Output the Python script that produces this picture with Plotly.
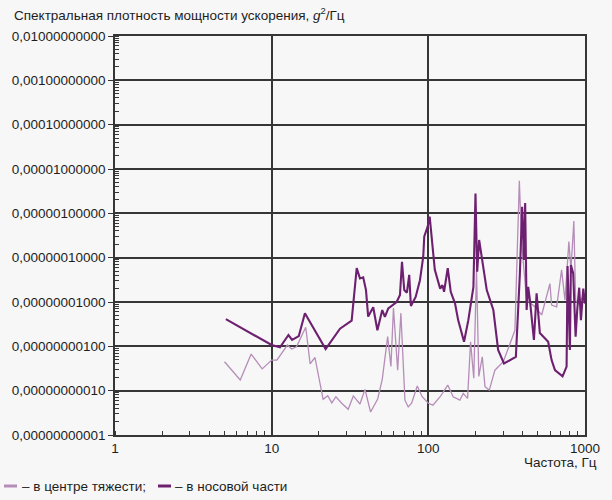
import plotly.graph_objects as go

# ---- data (frequency, Hz ; PSD, g^2/Hz) ----
freq_center = [5.0, 6.3, 7.4, 8.7, 10.0, 10.8, 12.6, 13.4, 14.4, 16.5, 17.6, 18.9,
               21.3, 22.8, 24.2, 25.7, 28.0, 30.8, 33.2, 36.6, 39.4, 42.8, 47.5,
               50.8, 55.0, 57.7, 59.9, 63.7, 66.8, 70.9, 74.4, 78.2, 85.0, 91.4,
               100, 107, 119, 133, 144, 159, 167, 178, 186, 195, 203, 210, 221,
               230, 245, 266, 301, 357, 381, 394, 424, 479, 529, 597, 612, 659,
               709, 745, 789, 813, 849, 871, 905, 951, 1000]
psd_center = [4.5e-10, 1.74e-10, 6.7e-10, 3.1e-10, 4.9e-10, 4.9e-10, 1.07e-9, 8.7e-10,
              9.8e-10, 2.7e-9, 4.0e-10, 5.6e-10, 6.4e-11, 7.7e-11, 5.3e-11, 7.3e-11,
              5.2e-11, 3.8e-11, 7.6e-11, 5.0e-11, 1.07e-10, 3.3e-11, 6.5e-11,
              1.8e-10, 1.65e-9, 3.5e-10, 7.3e-9, 2.9e-10, 5.6e-9, 6.1e-11, 4.3e-11,
              5.2e-11, 1.27e-10, 7.3e-11, 5.2e-11, 4.7e-11, 7.3e-11, 1.34e-10,
              7.3e-11, 6.1e-11, 8.7e-11, 6.7e-11, 1.27e-9, 1.9e-10, 5.3e-8, 2.1e-10,
              5.8e-10, 1.23e-10, 1.03e-10, 2.9e-10, 4.5e-10, 2.3e-9, 5.4e-6, 2.1e-7,
              1.1e-8, 7.8e-9, 5.1e-9, 2.6e-8, 8.5e-9, 7.8e-9, 5.3e-8, 1.1e-8,
              2.3e-7, 5.3e-8, 6.7e-7, 1.1e-8, 9.3e-9, 1.2e-8, 9.3e-9]

freq_nose = [5.1, 10.0, 11.3, 12.8, 13.5, 14.9, 16.3, 22.1, 27.3, 32.4, 34.9, 36.6,
             38.4, 40.0, 41.3, 44.5, 47.3, 50.8, 52.8, 55.5, 62.8, 65.9, 67.9,
             70.2, 73.0, 75.5, 77.4, 83.0, 88.4, 92.8, 94.2, 99, 102, 106, 110,
             119, 123, 126, 133, 139, 148, 155, 161, 169, 180, 194, 200, 205, 211,
             219, 236, 260, 279, 304, 362, 384, 397, 408, 415, 424, 434, 445, 472,
             491, 515, 582, 612, 643, 719, 763, 774, 801, 813, 841, 871, 892, 918,
             942, 975, 1000]
psd_nose = [4.1e-9, 1.07e-9, 9.5e-10, 1.8e-9, 1.39e-9, 1.7e-9, 5.6e-9, 8.7e-10,
            2.5e-9, 3.8e-9, 5.8e-8, 3.4e-8, 3.6e-8, 1.86e-8, 4.7e-9, 7.6e-9,
            2.3e-9, 6.6e-9, 4.6e-9, 7.2e-9, 1.0e-8, 1.44e-8, 8.1e-8, 1.86e-8,
            1.62e-8, 4.1e-8, 8.1e-9, 1.3e-8, 3.1e-8, 1.05e-7, 3.0e-7, 5.0e-7,
            8.4e-7, 1.93e-7, 5.3e-8, 2.0e-8, 2.4e-8, 1.7e-8, 5.8e-8, 1.7e-8,
            9.3e-9, 3.9e-9, 2.3e-9, 1.27e-9, 3.9e-9, 2.2e-8, 2.8e-6, 4.8e-8,
            2.5e-7, 1.05e-7, 1.86e-8, 6.6e-9, 8.3e-10, 4.1e-10, 5.8e-10, 4.4e-8,
            1.4e-6, 8.9e-8, 1.7e-6, 6.6e-9, 2.2e-8, 1.1e-8, 1.39e-9, 1.57e-8,
            2.0e-9, 1.27e-9, 4.9e-10, 2.9e-10, 2.1e-10, 3.5e-10, 6.5e-8, 8.3e-10,
            6.8e-8, 4.4e-8, 1.65e-9, 6.6e-9, 2.1e-8, 3.9e-9, 2.0e-8, 9.3e-9]

y_tickvals = [1e-11, 1e-10, 1e-9, 1e-8, 1e-7, 1e-6, 1e-5, 1e-4, 1e-3, 1e-2]
y_ticktext = ["0,00000000001", "0,00000000010", "0,00000000100", "0,00000001000",
              "0,00000010000", "0,00000100000", "0,00001000000", "0,00010000000",
              "0,00100000000", "0,01000000000"]
x_tickvals = [1, 10, 100, 1000]
x_ticktext = ["1", "10", "100", "1000"]

title_text = "Спектральная плотность мощности ускорения, <i>g</i><sup>2</sup>/Гц"
x_title = "Частота, Гц"
legend_center = "– в центре тяжести;"
legend_nose = "– в носовой части"

C_LIGHT = "#b58db8"
C_DARK = "#6e2070"
BG = "#f7f7f7"
GRID = "#363636"
TXT = "#1e1e1e"
FONT = "Arial, 'Liberation Sans', sans-serif"

fig = go.Figure()
fig.add_trace(go.Scatter(x=freq_center, y=psd_center, mode="lines",
                         line=dict(color=C_LIGHT, width=1.3), showlegend=False))
fig.add_trace(go.Scatter(x=freq_nose, y=psd_nose, mode="lines",
                         line=dict(color=C_DARK, width=2.1), showlegend=False))

L, R, T, B = 115, 27, 36, 65
W, H = 612, 500
pw, ph = W - L - R, H - T - B

def px(x):
    return (x - L) / pw

def py(y):
    return (H - B - y) / ph

fig.update_layout(
    width=W, height=H,
    margin=dict(l=L, r=R, t=T, b=B),
    paper_bgcolor=BG, plot_bgcolor=BG,
    font=dict(family=FONT, size=13.5, color=TXT),
    showlegend=False,
)
fig.update_xaxes(
    type="log", range=[0, 3],
    tickvals=x_tickvals, ticktext=x_ticktext,
    showgrid=True, gridcolor=GRID, gridwidth=1.5,
    showline=True, linecolor=GRID, linewidth=1.5, mirror=True,
    ticks="", zeroline=False,
    tickfont=dict(size=13.5),
    minor=dict(ticks="inside", ticklen=4, tickcolor=GRID, tickwidth=1, showgrid=False, dtick="D1"),
)
fig.update_yaxes(
    type="log", range=[-11, -2],
    tickvals=y_tickvals, ticktext=y_ticktext,
    showgrid=True, gridcolor=GRID, gridwidth=1.5,
    showline=True, linecolor=GRID, linewidth=1.5, mirror=True,
    ticks="outside", ticklen=5, tickcolor=GRID, tickwidth=1.2, zeroline=False,
    tickfont=dict(size=13.5),
    minor=dict(ticks="inside", ticklen=4, tickcolor=GRID, tickwidth=1, showgrid=False, dtick="D1"),
)

anns = [
    dict(text=title_text, x=px(12), y=py(14), xanchor="left", yanchor="middle"),
    dict(text=x_title, x=px(599), y=py(462), xanchor="right", yanchor="middle"),
    dict(text=legend_center, x=px(20), y=py(486), xanchor="left", yanchor="middle"),
    dict(text=legend_nose, x=px(173), y=py(486), xanchor="left", yanchor="middle"),
]
for a in anns:
    fig.add_annotation(xref="paper", yref="paper", showarrow=False,
                       font=dict(family=FONT, size=13.5, color=TXT), **a)

fig.add_shape(type="line", xref="paper", yref="paper", x0=px(4), x1=px(17),
              y0=py(486), y1=py(486), line=dict(color=C_LIGHT, width=3))
fig.add_shape(type="line", xref="paper", yref="paper", x0=px(158), x1=px(171),
              y0=py(486), y1=py(486), line=dict(color=C_DARK, width=3))

fig.write_html("out.html")
